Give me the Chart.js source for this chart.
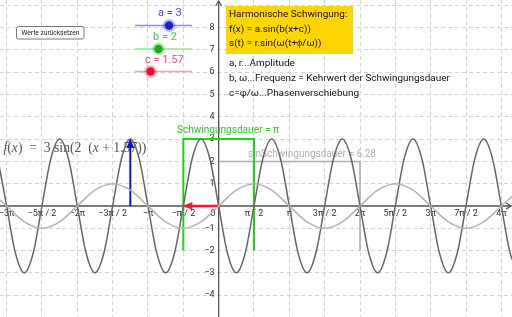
<!DOCTYPE html>
<html>
<head>
<meta charset="utf-8">
<script src="https://cdn.jsdelivr.net/npm/chart.js@4/dist/chart.umd.min.js"></script>
<style>
  body { margin: 0; background: #fff; }
  #wrap { position: relative; width: 512px; height: 317px; }
</style>
</head>
<body>
<div id="wrap"><canvas id="chart" width="512" height="317"></canvas></div>
<script>
// visible window of the graphics view
const xMin = -9.72, xMax = 13.04;
const yMin = -4.98, yMax = 9.24;

// axis ticks (x in halves of pi)
const xTickHalves = [-6, -5, -4, -3, -2, -1, 1, 2, 3, 4, 5, 6, 7, 8];
const xTickLabels = ["−3π", "−5π / 2", "−2π", "−3π / 2", "−π", "−π / 2", "π / 2", "π", "3π / 2", "2π", "5π / 2", "3π", "7π / 2", "4π"];
const yTicks = [-4, -3, -2, -1, 1, 2, 3, 4, 5, 6, 7, 8];
const yGrid = [-4, -3, -2, -1, 0, 1, 2, 3, 4, 5, 6, 7, 8, 9];

// f(x) = 3 sin(2 (x + 1.57)), read every pi/8 from x = -25pi/8
const fStartEighths = -25;
const fValues = [
  2.12, 0, -2.12, -3, -2.12, 0, 2.12, 3,
  2.12, 0, -2.12, -3, -2.12, 0, 2.12, 3,
  2.12, 0, -2.12, -3, -2.12, 0, 2.12, 3,
  2.12, 0, -2.12, -3, -2.12, 0, 2.12, 3,
  2.12, 0, -2.12, -3, -2.12, 0, 2.12, 3,
  2.12, 0, -2.12, -3, -2.12, 0, 2.12, 3,
  2.12, 0, -2.12, -3, -2.12, 0, 2.12, 3,
  2.12, 0, -2.12, -3
];

// sin(x), read every pi/4 from x = -13pi/4
const sinStartQuarters = -13;
const sinValues = [
  0.71, 0, -0.71, -1, -0.71, 0, 0.71, 1,
  0.71, 0, -0.71, -1, -0.71, 0, 0.71, 1,
  0.71, 0, -0.71, -1, -0.71, 0, 0.71, 1,
  0.71, 0, -0.71, -1, -0.71, 0, 0.71
];

// helper shapes (x in multiples of pi)
const periodBoxX = [-0.5, -0.5, 0.5, 0.5];
const periodBoxY = [-2, 3, 3, -2];
const sinBoxX = [0, 2, 2];
const sinBoxY = [2, 2, -2];
const amplitudeX = [-1.25, -1.25];
const amplitudeY = [0, 3];
const phaseX = [0, -0.5];
const phaseY = [0, 0];

// slider parameters
const sliderNames = ["a", "b", "c"];
const sliderValues = [3, 2, 1.57];

const PI = Math.PI;
function pts(xs, ys, unit) {
  return xs.map((v, i) => ({ x: v * unit, y: ys[i] }));
}
function series(start, vals, unit) {
  return vals.map((v, i) => ({ x: (start + i) * unit, y: v }));
}
// font size that makes `text` about `width` px wide
function fitFont(ctx, text, width, family, style) {
  style = style || "";
  ctx.font = style + "10px " + family;
  const size = 10 * width / ctx.measureText(text).width;
  return style + size.toFixed(2) + "px " + family;
}

const overlay = {
  id: "overlay",
  beforeDatasetsDraw(chart) {
    const { ctx, scales: { x, y } } = chart;
    const W = chart.width, H = chart.height;
    const x0 = x.getPixelForValue(0), y0 = y.getPixelForValue(0);
    ctx.save();

    // axes
    ctx.strokeStyle = "#555";
    ctx.lineWidth = 1.3;
    ctx.beginPath();
    ctx.moveTo(0, y0); ctx.lineTo(W - 1, y0);
    ctx.moveTo(x0, H); ctx.lineTo(x0, 1);
    ctx.stroke();
    ctx.beginPath();
    ctx.moveTo(W - 6, y0 - 3); ctx.lineTo(W - 1, y0); ctx.lineTo(W - 6, y0 + 3);
    ctx.moveTo(x0 - 3, 6); ctx.lineTo(x0, 1); ctx.lineTo(x0 + 3, 6);
    ctx.stroke();

    // tick labels
    ctx.fillStyle = "#333";
    ctx.font = "9px Roboto";
    ctx.textBaseline = "middle";
    ctx.textAlign = "center";
    xTickHalves.forEach((h, i) => {
      ctx.fillText(xTickLabels[i], x.getPixelForValue(h * PI / 2), y0 + 8);
    });
    ctx.textAlign = "right";
    yTicks.forEach(v => ctx.fillText(v < 0 ? "−" + (-v) : String(v), x0 - 4, y.getPixelForValue(v)));
    ctx.fillText("0", x0 - 3, y0 + 8);

    // function label (LaTeX style), scaled to its width in the picture
    const runs = [["f", true], ["(", false], ["x", true], [")  =  3 sin(2  (", false], ["x", true], [" + 1.57))", false]];
    let total = 0;
    runs.forEach(([s, it]) => {
      ctx.font = (it ? "italic " : "") + "13px 'Liberation Serif'";
      total += ctx.measureText(s).width;
    });
    const fs = 13 * 143 / total;
    let tx = 3.5;
    ctx.textAlign = "left";
    ctx.fillStyle = "#555";
    runs.forEach(([s, it]) => {
      ctx.font = (it ? "italic " : "") + fs.toFixed(2) + "px 'Liberation Serif'";
      ctx.fillText(s, tx, 148);
      tx += ctx.measureText(s).width;
    });

    // captions
    ctx.fillStyle = "#2bcc2b";
    ctx.font = fitFont(ctx, "Schwingungsdauer = π", 102, "Roboto");
    ctx.fillText("Schwingungsdauer = π", 177, 130);
    ctx.fillStyle = "#b0b0b0";
    ctx.font = fitFont(ctx, "sinSchwingungsdauer = 6.28", 128, "Roboto");
    ctx.fillText("sinSchwingungsdauer = 6.28", 248, 155);
    ctx.restore();
  },
  afterDatasetsDraw(chart) {
    const { ctx } = chart;
    ctx.save();

    // arrow heads on flagged datasets
    chart.data.datasets.forEach((ds, i) => {
      if (!ds.arrow) return;
      const meta = chart.getDatasetMeta(i).data;
      const a = meta[meta.length - 2], b = meta[meta.length - 1];
      const ang = Math.atan2(b.y - a.y, b.x - a.x);
      const L = 9, Wd = 4;
      ctx.fillStyle = ds.borderColor;
      ctx.beginPath();
      ctx.moveTo(b.x, b.y);
      ctx.lineTo(b.x - L * Math.cos(ang) + Wd * Math.sin(ang), b.y - L * Math.sin(ang) - Wd * Math.cos(ang));
      ctx.lineTo(b.x - L * Math.cos(ang) - Wd * Math.sin(ang), b.y - L * Math.sin(ang) + Wd * Math.cos(ang));
      ctx.closePath();
      ctx.fill();
    });

    // sliders
    const sl = [
      { lx: 158, ly: 13, y: 25.5, dot: 169, text: "#4a4ad8", line: "#8c8cf0", fill: "#1e1ecc" },
      { lx: 153, ly: 37, y: 49, dot: 158.5, text: "#3ecf3e", line: "#9ce69c", fill: "#1aaa1a" },
      { lx: 145, ly: 60.5, y: 71.5, dot: 150.5, text: "#f0506e", line: "#f7a0b0", fill: "#e0103a" }
    ];
    sl.forEach((s, i) => {
      ctx.strokeStyle = s.line;
      ctx.lineWidth = 1.5;
      ctx.beginPath();
      ctx.moveTo(135, s.y); ctx.lineTo(192, s.y);
      ctx.stroke();
      ctx.fillStyle = s.fill;
      ctx.globalAlpha = 0.3;
      ctx.beginPath(); ctx.arc(s.dot, s.y, 6.5, 0, 2 * PI); ctx.fill();
      ctx.globalAlpha = 1;
      ctx.beginPath(); ctx.arc(s.dot, s.y, 4.2, 0, 2 * PI); ctx.fill();
      const label = sliderNames[i] + " = " + sliderValues[i];
      ctx.fillStyle = s.text;
      ctx.font = "11px Roboto";
      ctx.textAlign = "left";
      ctx.textBaseline = "middle";
      ctx.fillText(label, s.lx, s.ly);
    });

    // reset button
    ctx.fillStyle = "#fff";
    ctx.strokeStyle = "#777";
    ctx.lineWidth = 1;
    ctx.beginPath();
    ctx.roundRect(16.5, 26.5, 67.5, 12.5, 2);
    ctx.fill(); ctx.stroke();
    ctx.fillStyle = "#222";
    ctx.font = fitFont(ctx, "Werte zurücksetzen", 58, "Roboto");
    ctx.textAlign = "center";
    ctx.fillText("Werte zurücksetzen", 50.5, 33);

    // yellow info box
    ctx.fillStyle = "#ffd500";
    ctx.fillRect(226, 6, 127, 48);
    ctx.fillStyle = "#111";
    ctx.font = fitFont(ctx, "b, ω...Frequenz = Kehrwert der Schwingungsdauer", 221, "Roboto");
    ctx.textAlign = "left";
    ctx.fillText("Harmonische Schwingung:", 229, 15);
    ctx.fillText("f(x) = a.sin(b(x+c))", 229, 29.5);
    ctx.fillText("s(t) = r.sin(ω(t+ϕ/ω))", 229, 44);
    ctx.fillText("a, r...Amplitude", 229, 63.5);
    ctx.fillText("b, ω...Frequenz = Kehrwert der Schwingungsdauer", 229, 79);
    ctx.fillText("c=φ/ω...Phasenverschiebung", 229, 93.5);
    ctx.restore();
  }
};

new Chart(document.getElementById("chart"), {
  type: "scatter",
  data: {
    datasets: [
      {
        data: series(sinStartQuarters, sinValues, PI / 4),
        borderColor: "#b4b4b4", borderWidth: 1.5
      },
      {
        data: series(fStartEighths, fValues, PI / 8),
        borderColor: "#666", borderWidth: 1.5
      },
      {
        data: pts(periodBoxX, periodBoxY, PI),
        borderColor: "#1ed21e", borderWidth: 2, cubicInterpolationMode: "default", tension: 0
      },
      {
        data: pts(sinBoxX, sinBoxY, PI),
        borderColor: "#aaa", borderWidth: 1.5, cubicInterpolationMode: "default", tension: 0
      },
      {
        data: pts(amplitudeX, amplitudeY, PI),
        borderColor: "#1010e0", borderWidth: 2, tension: 0, arrow: true
      },
      {
        data: pts(phaseX, phaseY, PI),
        borderColor: "#ff1438", borderWidth: 2.5, tension: 0, arrow: true
      }
    ]
  },
  options: {
    responsive: false,
    animation: false,
    layout: { padding: 0 },
    showLine: true,
    elements: {
      point: { radius: 0, hoverRadius: 0 },
      line: { cubicInterpolationMode: "monotone", fill: false }
    },
    plugins: { legend: { display: false }, tooltip: { enabled: false } },
    scales: {
      x: {
        type: "linear", min: xMin, max: xMax,
        afterBuildTicks: s => { s.ticks = xTickHalves.map(h => ({ value: h * PI / 2 })); },
        ticks: { display: false },
        grid: { color: "#d4d4d4", lineWidth: 1, drawTicks: false },
        border: { display: false, dash: [4, 3] }
      },
      y: {
        type: "linear", min: yMin, max: yMax,
        afterBuildTicks: s => { s.ticks = yGrid.map(v => ({ value: v })); },
        ticks: { display: false },
        grid: { color: "#d4d4d4", lineWidth: 1, drawTicks: false },
        border: { display: false, dash: [4, 3] }
      }
    }
  },
  plugins: [overlay]
});
</script>
</body>
</html>
